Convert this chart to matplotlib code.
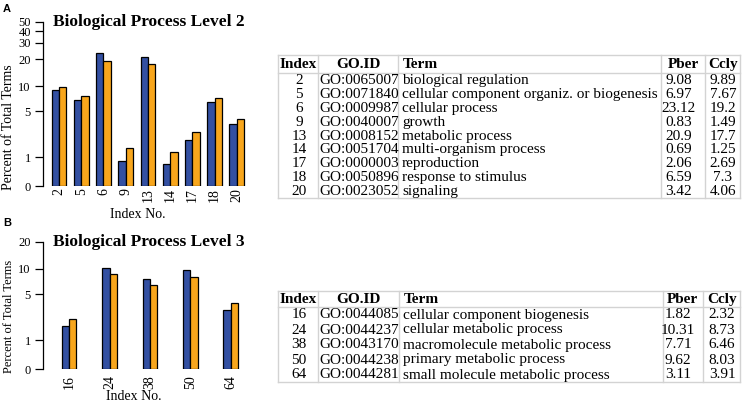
import numpy as np
import matplotlib
matplotlib.use("Agg")
import matplotlib.pyplot as plt

plt.rcParams['font.family'] = ['Liberation Serif', 'DejaVu Serif']

# Level 2 data
idx2 = ["2", "5", "6", "9", "13", "14", "17", "18", "20"]
goid2 = ["GO:0065007", "GO:0071840", "GO:0009987", "GO:0040007", "GO:0008152",
         "GO:0051704", "GO:0000003", "GO:0050896", "GO:0023052"]
term2 = ["biological regulation", "cellular component organiz. or biogenesis",
         "cellular process", "growth", "metabolic process", "multi-organism process",
         "reproduction", "response to stimulus", "signaling"]
pber2 = [9.08, 6.97, 23.12, 0.83, 20.9, 0.69, 2.06, 6.59, 3.42]
ccly2 = [9.89, 7.67, 19.2, 1.49, 17.7, 1.25, 2.69, 7.3, 4.06]

# Level 3 data
idx3 = ["16", "24", "38", "50", "64"]
goid3 = ["GO:0044085", "GO:0044237", "GO:0043170", "GO:0044238", "GO:0044281"]
term3 = ["cellular component biogenesis", "cellular metabolic process",
         "macromolecule metabolic process", "primary metabolic process",
         "small molecule metabolic process"]
pber3 = [1.82, 10.31, 7.71, 9.62, 3.11]
ccly3 = [2.32, 8.73, 6.46, 8.03, 3.91]

yticks2 = [0, 1, 5, 10, 20, 30, 40, 50]
yticks3 = [0, 1, 5, 10, 20]
headers = ["Index", "GO.ID", "Term", "Pber", "Ccly"]

BLUE = '#3350a2'
ORANGE = '#f8a61c'
W, H = 744, 405

fig = plt.figure(figsize=(W / 100, H / 100), dpi=100)


def px_axes(x0, y0, x1, y1):
    return fig.add_axes([x0 / W, 1 - y1 / H, (x1 - x0) / W, (y1 - y0) / H])


def bar_panel(ax, pber, ccly, labels, start, step, xmax, yticks, pad):
    g = np.arange(len(pber))
    left = start + step * g
    ax.bar(left, pber, width=1, align='edge', color=BLUE, edgecolor='black', linewidth=0.9)
    ax.bar(left + 1, ccly, width=1, align='edge', color=ORANGE, edgecolor='black', linewidth=0.9)
    # y axis is log(x + 1)
    ax.set_yscale('function', functions=(np.log1p, np.expm1))
    ax.set_ylim(0, yticks[-1])
    ax.set_xlim(xmax[0], xmax[1])
    ax.set_yticks(yticks)
    ax.set_yticklabels([str(t) for t in yticks])
    ax.minorticks_off()
    ax.set_xticks(left + 1)
    ax.set_xticklabels(labels, rotation=90)
    for s in ['top', 'right', 'bottom']:
        ax.spines[s].set_visible(False)
    ax.spines['left'].set_linewidth(0.9)
    ax.tick_params(axis='y', length=5.5, width=0.9, pad=3, labelsize=9)
    ax.tick_params(axis='x', length=0, pad=pad, labelsize=10)
    ax.patch.set_alpha(0)


axA = px_axes(42.7, 22, 252, 186.3)
bar_panel(axA, pber2, ccly2, idx2, 1, 3, (-0.2, 28.04), yticks2, 1.5)
axB = px_axes(42.7, 241.7, 252, 369.3)
bar_panel(axB, pber3, ccly3, idx3, 2.5, 5.5, (-0.1, 28.4), yticks3, 4)

fig.text(149 / W, 1 - 22.5 / H, "Biological Process Level 2", ha='center', va='center',
         fontsize=12.5, fontweight='bold')
fig.text(149 / W, 1 - 242.5 / H, "Biological Process Level 3", ha='center', va='center',
         fontsize=12.5, fontweight='bold')
fig.text(9 / W, 1 - 127 / H, "Percent of Total Terms", rotation=90, ha='center', va='center', fontsize=10)
fig.text(9 / W, 1 - 316 / H, "Percent of Total Terms", rotation=90, ha='center', va='center', fontsize=9)
fig.text(137.5 / W, 1 - 214.5 / H, "Index No.", ha='center', va='center', fontsize=10)
fig.text(134 / W, 1 - 396.5 / H, "Index No.", ha='center', va='center', fontsize=10)
fig.text(3 / W, 1 - 8.5 / H, "A", ha='left', va='center', fontsize=8, fontweight='bold',
         family=['Liberation Sans', 'DejaVu Sans'])
fig.text(3 / W, 1 - 222.5 / H, "B", ha='left', va='center', fontsize=8, fontweight='bold',
         family=['Liberation Sans', 'DejaVu Sans'])

# tables drawn in pixel coordinates
tab = fig.add_axes([0, 0, 1, 1])
tab.set_xlim(0, W)
tab.set_ylim(H, 0)
tab.axis('off')


def draw_table(cols, top, head_bot, row_h, rows, pber_x):
    grey = '#d3d3d3'
    bottom = head_bot + row_h * len(rows)
    for x in cols:
        tab.plot([x, x], [top, bottom], color=grey, lw=1)
    for y in [top, head_bot, bottom]:
        tab.plot([cols[0], cols[-1]], [y, y], color=grey, lw=1)
    hy = (top + head_bot) / 2 + 0.5
    hx = [(cols[0] + cols[1]) / 2, (cols[1] + cols[2]) / 2, cols[2] + 5, pber_x + 4,
          (cols[4] + cols[5]) / 2 + 0.5]
    ha = ['center', 'center', 'left', 'center', 'center']
    for h, x, a in zip(headers, hx, ha):
        tab.text(x, hy, h, ha=a, va='center', fontsize=11, fontweight='bold')
    for i, r in enumerate(rows):
        y = head_bot + row_h * (i + 0.5) + 0.5
        tab.text((cols[0] + cols[1]) / 2 + 1, y, r[0], ha='center', va='center', fontsize=11)
        tab.text(cols[1] + 1, y, r[1], ha='left', va='center', fontsize=11)
        tab.text(cols[2] + 4, y, r[2], ha='left', va='center', fontsize=11)
        tab.text(pber_x, y, r[3], ha='center', va='center', fontsize=11)
        tab.text((cols[4] + cols[5]) / 2 + 0.5, y, r[4], ha='center', va='center', fontsize=11)


rows2 = [(a, b, c, str(d), str(e)) for a, b, c, d, e in zip(idx2, goid2, term2, pber2, ccly2)]
rows3 = [(a, b, c, str(d), str(e)) for a, b, c, d, e in zip(idx3, goid3, term3, pber3, ccly3)]
draw_table([278, 318, 398, 661, 705, 740], 55, 73, 13.9, rows2, 679)
draw_table([278, 318, 399, 663, 703, 740], 291, 307, 15, rows3, 678)

fig.savefig("out.png", dpi=100)
